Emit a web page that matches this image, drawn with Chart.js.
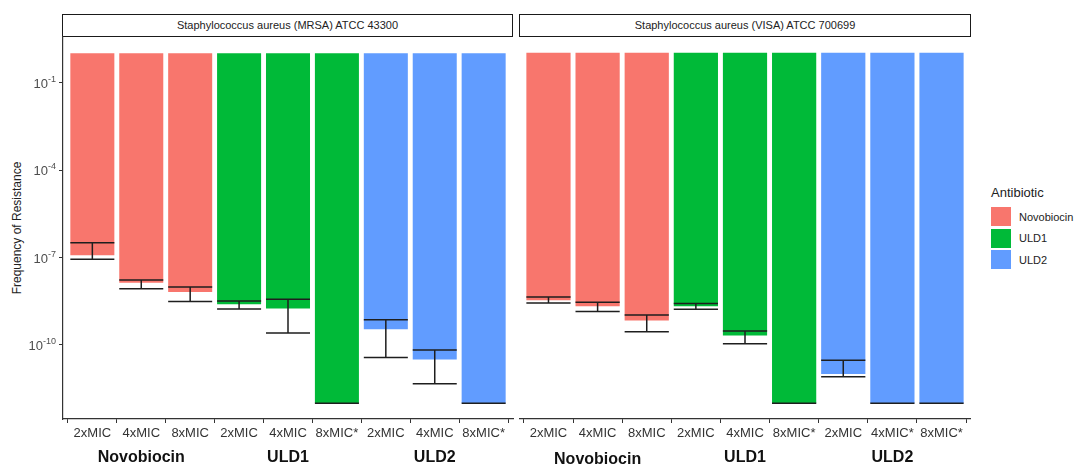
<!DOCTYPE html>
<html>
<head>
<meta charset="utf-8">
<script src="https://cdn.jsdelivr.net/npm/chart.js@4.4.1/dist/chart.umd.min.js"></script>
<style>
  body { margin: 0; width: 1075px; height: 466px; background: #fff; position: relative; overflow: hidden;
         font-family: "Liberation Sans", Arial, sans-serif; color: #1a1a1a; }
  canvas { position: absolute; top: 36px; }
  .strip { position: absolute; top: 14px; height: 23px; box-sizing: border-box; border: 1.3px solid #1a1a1a;
           font-size: 11px; text-align: center; line-height: 20px; color: #222; }
  .ytitle { position: absolute; left: 17px; top: 228px; transform: translate(-50%, -50%) rotate(-90deg);
            font-size: 12px; white-space: nowrap; color: #222; }
  .legend { position: absolute; left: 991px; top: 185px; font-size: 11px; color: #222; }
  .legend .t { font-size: 13px; margin-bottom: 6px; }
  .legend .k { display: flex; align-items: center; height: 21.5px; }
  .legend .k span { display: inline-block; width: 20px; height: 19px; margin-right: 8px; }
</style>
</head>
<body>
<div class="strip" id="s1" style="left:62px;width:451px"></div>
<div class="strip" id="s2" style="left:519px;width:452px"></div>
<div class="ytitle">Frequency of Resistance</div>
<div class="legend" id="legend"></div>
<canvas id="c1" width="515" height="430" style="left:0;width:515px;height:430px"></canvas>
<canvas id="c2" width="452" height="430" style="left:519px;width:452px;height:430px"></canvas>
<script>
// strains (facets)
const strains = ["Staphylococcus aureus (MRSA) ATCC 43300", "Staphylococcus aureus (VISA) ATCC 700699"];
const drugs = ["Novobiocin", "ULD1", "ULD2"];
const colors = ["#F8766D", "#00BA38", "#619CFF"];
const drugOf = [0, 0, 0, 1, 1, 1, 2, 2, 2];

const labelsMRSA = ["2xMIC", "4xMIC", "8xMIC", "2xMIC", "4xMIC", "8xMIC*", "2xMIC", "4xMIC", "8xMIC*"];
const labelsVISA = ["2xMIC", "4xMIC", "8xMIC", "2xMIC", "4xMIC", "8xMIC*", "2xMIC", "4xMIC*", "8xMIC*"];

// frequency of resistance (bar end) and error bar limits
const freqMRSA = [1.2e-7, 1.35e-8, 6.6e-9, 2.5e-9, 1.8e-9, 1e-12, 3.5e-10, 3.2e-11, 1e-12];
const highMRSA = [3.2e-7, 1.7e-8, 9.8e-9, 3.2e-9, 3.7e-9, 1e-12, 7.4e-10, 6.8e-11, 1e-12];
const lowMRSA  = [8.7e-8, 8.5e-9, 3.1e-9, 1.7e-9, 2.6e-10, 1e-12, 3.7e-11, 4.7e-12, 1e-12];

const freqVISA = [3.4e-9, 2.1e-9, 6.9e-10, 2.1e-9, 2.1e-10, 1e-12, 1.0e-11, 1e-12, 1e-12];
const highVISA = [4.4e-9, 2.9e-9, 1.05e-9, 2.6e-9, 3.0e-10, 1e-12, 2.95e-11, 1e-12, 1e-12];
const lowVISA  = [2.7e-9, 1.4e-9, 2.8e-10, 1.66e-9, 1.1e-10, 1e-12, 8.1e-12, 1e-12, 1e-12];

// bars are drawn from 1 (10^0) down to the value
const barBase = 1;
const yTicks = [1e-1, 1e-4, 1e-7, 1e-10];
const yTickExp = ["-1", "-4", "-7", "-10"];
const yMin = 2.9e-13, yMax = 3.76;
// discrete axis expansion like ggplot (0.6 of a slot on each side)
const xExpand = 0.6;

document.getElementById("s1").textContent = strains[0];
document.getElementById("s2").textContent = strains[1];
document.getElementById("legend").innerHTML = '<div class="t">Antibiotic</div>' +
  drugs.map((d, i) => `<div class="k"><span style="background:${colors[i]}"></span>${d}</div>`).join("");

const FONT = '"Liberation Sans", Arial, sans-serif';
const AXIS = "#333";

const extras = {
  id: "extras",
  afterDatasetsDraw(chart, args, o) {
    const { ctx, scales: { x, y } } = chart;
    const meta = chart.getDatasetMeta(0);
    ctx.save();
    ctx.strokeStyle = "#1e1e1e";
    ctx.lineWidth = 1.5;
    meta.data.forEach((bar, i) => {
      const hw = bar.width / 2;
      const yh = y.getPixelForValue(o.high[i]);
      const yl = y.getPixelForValue(o.low[i]);
      ctx.beginPath();
      ctx.moveTo(bar.x - hw, yh); ctx.lineTo(bar.x + hw, yh);
      ctx.moveTo(bar.x - hw, yl); ctx.lineTo(bar.x + hw, yl);
      ctx.moveTo(bar.x, yh); ctx.lineTo(bar.x, yl);
      ctx.stroke();
    });
    // group labels under the x axis
    ctx.fillStyle = "#111";
    ctx.font = "bold 16px " + FONT;
    ctx.textAlign = "center";
    ctx.textBaseline = "middle";
    drugs.forEach((d, g) => {
      const idx = drugOf.map((v, i) => v === g ? i : -1).filter(i => i >= 0);
      const cx = idx.reduce((a, i) => a + x.getPixelForValue(i), 0) / idx.length;
      ctx.fillText(d, cx, o.groupY[g]);
    });
    // y tick labels with superscript exponents
    if (o.yLabels) {
      ctx.textBaseline = "alphabetic";
      ctx.textAlign = "right";
      yTicks.forEach((v, i) => {
        const py = y.getPixelForValue(v);
        ctx.font = "9px " + FONT;
        const ew = ctx.measureText(yTickExp[i]).width;
        ctx.fillStyle = "#4d4d4d";
        ctx.fillText(yTickExp[i], 56, py - 1);
        ctx.font = "13px " + FONT;
        ctx.fillText("10", 56 - ew, py + 5);
      });
    }
    ctx.restore();
  }
};

function makeChart(id, labels, freq, low, high, showY, groupY) {
  return new Chart(document.getElementById(id), {
    type: "bar",
    data: {
      datasets: [{
        data: freq.map((v, i) => ({ x: i, y: [v, barBase] })),
        backgroundColor: drugOf.map(g => colors[g]),
        borderWidth: 0,
        barPercentage: 0.9,
        categoryPercentage: 1.0
      }]
    },
    options: {
      responsive: false,
      animation: false,
      layout: { autoPadding: false, padding: { left: 0, right: showY ? 2 : 0, top: 0, bottom: 0 } },
      plugins: {
        legend: { display: false },
        tooltip: { enabled: false },
        extras: { low: low, high: high, yLabels: showY, groupY: groupY }
      },
      scales: {
        x: {
          type: "linear",
          offset: false,
          min: -xExpand,
          max: labels.length - 1 + xExpand,
          afterBuildTicks: s => { s.ticks = labels.map((_, i) => ({ value: i })); },
          grid: { display: true, drawOnChartArea: false, drawTicks: true, tickLength: 4, color: AXIS },
          border: { display: true, color: AXIS, width: 1.2 },
          ticks: { color: "#333", font: { family: FONT, size: 13 }, padding: 3, maxRotation: 0, autoSkip: false,
                   callback: v => labels[v] },
          afterFit: s => { s.height = 47; }
        },
        y: {
          type: "logarithmic",
          display: showY,
          min: yMin,
          max: yMax,
          afterBuildTicks: s => { s.ticks = yTicks.map(v => ({ value: v })); },
          grid: { display: true, drawOnChartArea: false, drawTicks: true, tickLength: 4, color: AXIS },
          border: { display: true, color: AXIS, width: 1.2 },
          ticks: { callback: () => "", padding: 0, font: { size: 1 } },
          afterFit: s => { s.width = showY ? 63 : 0; }
        }
      }
    },
    plugins: [extras]
  });
}

makeChart("c1", labelsMRSA, freqMRSA, lowMRSA, highMRSA, true, [422, 422, 422]);
makeChart("c2", labelsVISA, freqVISA, lowVISA, highVISA, false, [424, 422, 422]);
</script>
</body>
</html>
